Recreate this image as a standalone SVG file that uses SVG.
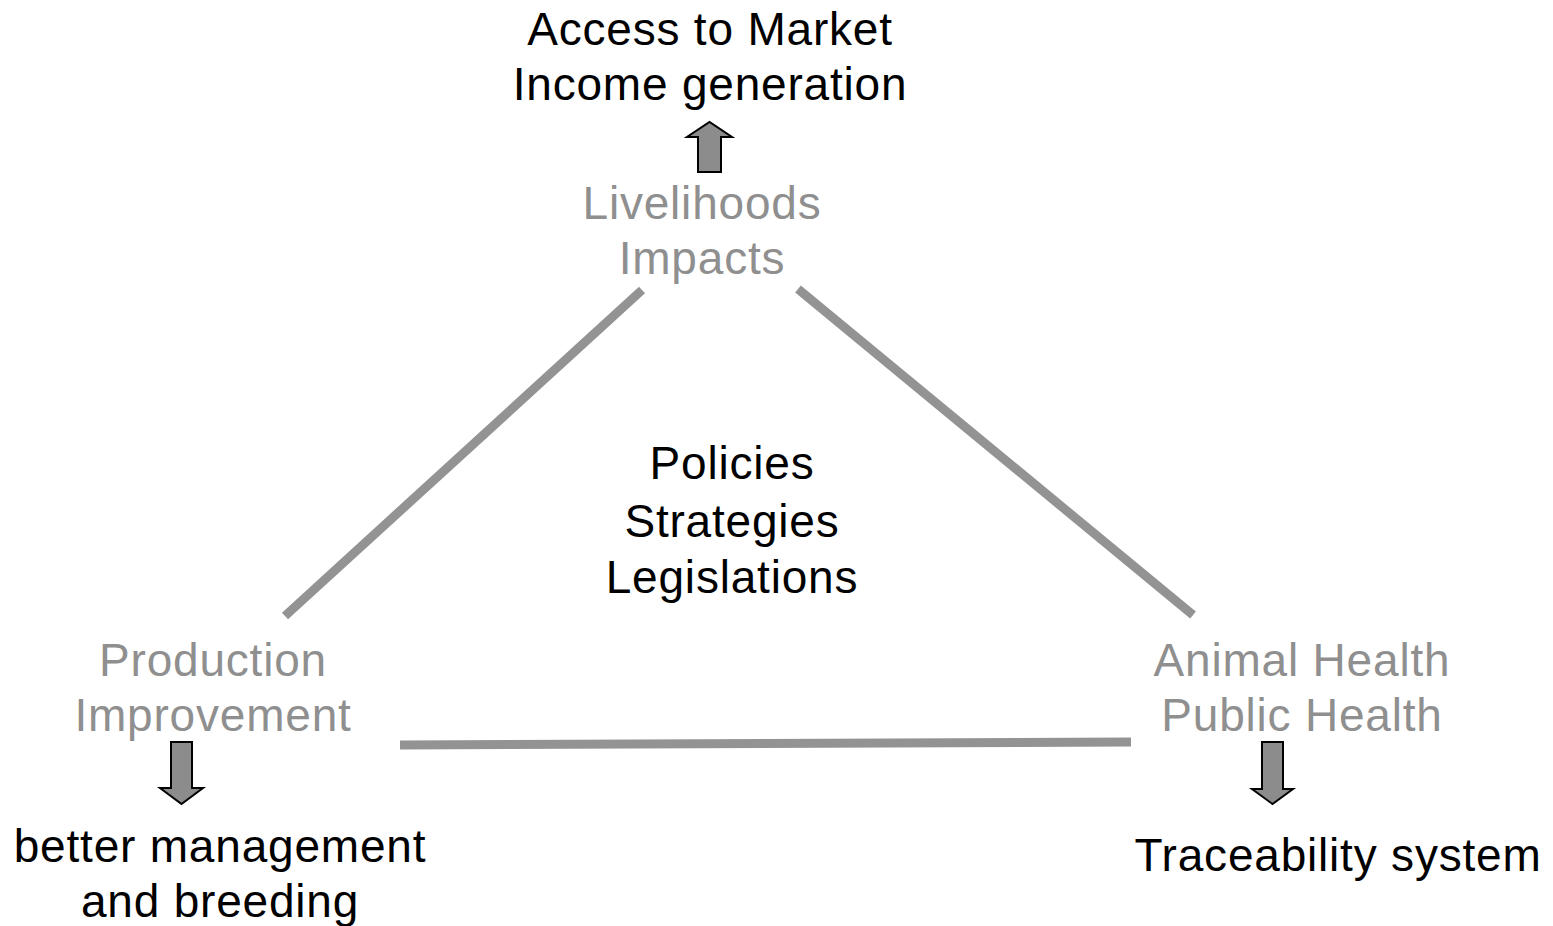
<svg xmlns="http://www.w3.org/2000/svg" width="1553" height="926" viewBox="0 0 1553 926">
<style>
text{font-family:"Liberation Sans",Arial,sans-serif;font-size:46px;letter-spacing:0.8px;text-anchor:middle}
.k{fill:#000}
.g{fill:#8f8f8f}
.edge{stroke:#939393;stroke-width:9;fill:none}
.arr{fill:#8c8c8c;stroke:#000;stroke-width:2;stroke-linejoin:miter}
</style>
<rect width="1553" height="926" fill="#fff"/>
<g id="connectors">
<line class="edge" x1="285" y1="616" x2="642" y2="290"/>
<line class="edge" x1="798" y1="289" x2="1193" y2="615"/>
<line class="edge" x1="400" y1="745" x2="1131" y2="742"/>
<path class="arr" d="M698,172 L698,137 L687,137 L709.5,122 L732,137 L721,137 L721,172 Z"/>
<path class="arr" d="M171,742 L192,742 L192,788 L203,788 L181.5,804 L160,788 L171,788 Z"/>
<path class="arr" d="M1262,742 L1283,742 L1283,789 L1293,789 L1272.5,804 L1252,789 L1262,789 Z"/>
</g>
<g id="top"><text class="k" x="710" y="45">Access to Market</text><text class="k" x="710" y="100">Income generation</text></g>
<g id="livelihoods"><text class="g" x="702" y="219">Livelihoods</text><text class="g" x="702" y="274">Impacts</text></g>
<g id="policies"><text class="k" x="732" y="479">Policies</text><text class="k" x="732" y="537">Strategies</text><text class="k" x="732" y="593">Legislations</text></g>
<g id="production"><text class="g" x="213" y="676">Production</text><text class="g" x="213" y="731">Improvement</text></g>
<g id="health"><text class="g" x="1302" y="676">Animal Health</text><text class="g" x="1302" y="731">Public Health</text></g>
<g id="management"><text class="k" x="220" y="862">better management</text><text class="k" x="220" y="917">and breeding</text></g>
<g id="traceability"><text class="k" x="1338" y="871">Traceability system</text></g>
</svg>
